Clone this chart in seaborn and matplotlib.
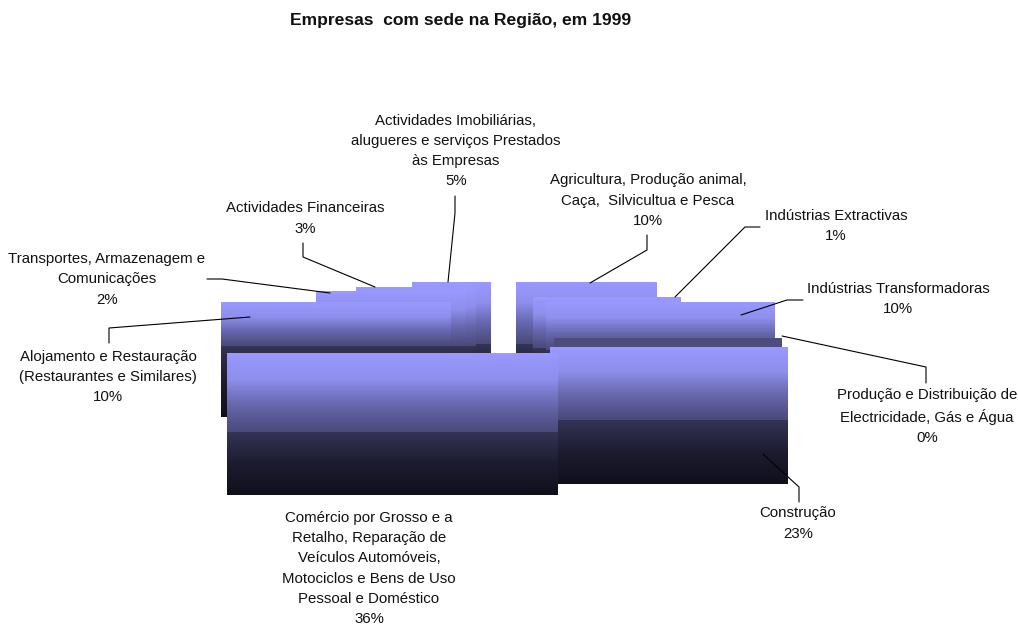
# Empresas com sede na Regiao - blocks with gradient fill and leader lines
import numpy as np
import pandas as pd
import seaborn as sns
import matplotlib.pyplot as plt

# Chart values
categories = [
    "Actividades Imobiliárias,\nalugueres e serviços Prestados\nàs Empresas",
    "Actividades Financeiras",
    "Transportes, Armazenagem e\nComunicações",
    "Alojamento e Restauração\n(Restaurantes e Similares)",
    "Agricultura, Produção animal,\nCaça,  Silvicultua e Pesca",
    "Indústrias Extractivas",
    "Indústrias Transformadoras",
    "Produção e Distribuição de\nElectricidade, Gás e Água",
    "Construção",
    "Comércio por Grosso e a\nRetalho, Reparação de\nVeículos Automóveis,\nMotociclos e Bens de Uso\nPessoal e Doméstico",
]
percents = [5, 3, 2, 10, 10, 1, 10, 0, 23, 36]

# Block edges, back to front (same order as categories)
block_left = [412, 356, 316, 221, 516, 533, 546, 554, 550, 227]
block_right = [491, 476, 466, 451, 657, 681, 775, 782, 788, 558]
block_top = [282, 287, 291, 302, 282, 297, 302, 338, 347, 353]
block_split = [344, 346, 346, 346, 344, 348, 350, 347, 420, 432]
block_bottom = [395, 400, 406, 417, 395, 400, 420, 347, 484, 495]

# Label centres
label_x = [456, 305, 107, 108, 648, 836, 898, 927, 798, 369]
label_y = [151, 218.5, 279.5, 377, 200.5, 226, 299, 416.5, 523.5, 568.5]

# Leader lines
leader_x = [
    [455, 455, 448], [303, 303, 375], [207, 222, 330], [109, 109, 250], [647, 647, 590],
    [760, 745, 675], [803, 787, 741], [926, 926, 782], [799, 799, 763],
]
leader_y = [
    [196, 213, 282], [243, 257, 287], [279, 279, 293], [343, 328, 317], [235, 250, 283],
    [227, 227, 297], [300, 300, 315], [383, 367, 336], [502, 487, 454],
]

title = "Empresas  com sede na Região, em 1999"

sns.set_theme(style="white")
plt.rcParams["font.family"] = ["Liberation Sans", "DejaVu Sans"]

upper_cmap = sns.blend_palette(["#9999FF", "#8E8EEC", "#6666AC", "#4A4A7C"], as_cmap=True)
lower_cmap = sns.blend_palette(["#333355", "#1C1C30", "#10101C"], as_cmap=True)
band_color = "#4D4D7D"

fig = plt.figure(figsize=(10.18, 6.24), dpi=100)
ax = fig.add_axes([0, 0, 1, 1])


def gradient(left, right, top, bottom, cmap):
    rows = np.linspace(0, 1, max(int(bottom - top), 2)).reshape(-1, 1)
    ax.imshow(rows, cmap=cmap, vmin=0, vmax=1, aspect="auto", interpolation="nearest",
              extent=(left, right, bottom, top))


for i in range(len(categories)):
    l, r, t, s, b = block_left[i], block_right[i], block_top[i], block_split[i], block_bottom[i]
    if categories[i].startswith("Produção"):
        # this one only shows as a flat band
        ax.fill_between([l, r], t, b, color=band_color, linewidth=0, zorder=0)
        continue
    gradient(l, r, t, s, upper_cmap)
    gradient(l, r, s, b, lower_cmap)

for xs, ys in zip(leader_x, leader_y):
    leader = pd.DataFrame({"x": xs, "y": ys})
    sns.lineplot(data=leader, x="x", y="y", sort=False, estimator=None, color="black",
                 linewidth=0.8, ax=ax)

for name, pct, x, y in zip(categories, percents, label_x, label_y):
    ax.text(x, y, f"{name}\n{pct}%", ha="center", va="center", ma="center",
            fontsize=10.8, linespacing=1.56, color="#111111")

ax.text(461, 21, title, ha="center", va="center", fontsize=12.6, fontweight="bold", color="#111111")

ax.set_xlim(0, 1018)
ax.set_ylim(624, 0)
ax.axis("off")
fig.savefig("out.png", dpi=100, facecolor="white")
